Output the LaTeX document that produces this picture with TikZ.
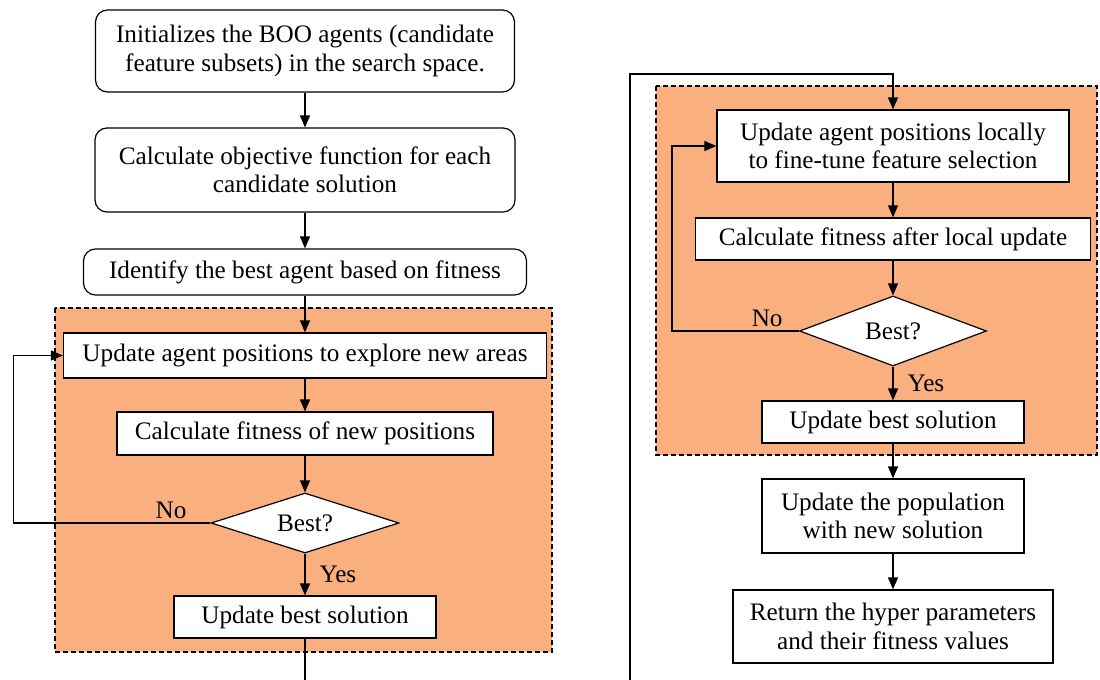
\documentclass[tikz,border=0pt]{standalone}
\usepackage{fontspec}
\setmainfont{Liberation Serif}
\usepackage{tikz}
\usetikzlibrary{arrows.meta, shapes.geometric, backgrounds}
\definecolor{peach}{RGB}{250,176,126}
\tikzstyle{box}=[draw, fill=white, shape=rectangle, align=center, inner sep=2pt, line width=0.6pt]
\tikzstyle{rbox}=[box, rounded corners=6pt]
\tikzstyle{dec}=[draw, fill=white, shape=diamond, aspect=3, inner sep=0pt, line width=0.6pt]
\tikzstyle{zone}=[draw, fill=peach, dash pattern=on 2.5pt off 1.5pt, line width=0.6pt]
\tikzset{>={Triangle[length=6pt,width=5pt]}}

\begin{document}
\begin{tikzpicture}[x=0.5pt, y=-0.5pt, line width=0.6pt, font=\fontsize{12.6}{14.2}\selectfont]
\useasboundingbox (0,0) rectangle (1100,680);

\draw[zone] (55,308) rectangle (552,652);
\draw[zone] (656,86) rectangle (1097,455);

\node[rbox, minimum width=209.5pt, minimum height=41pt] (B0) at (305,51) {Initializes the BOO agents (candidate\\feature subsets) in the search space.};
\node[rbox, minimum width=210pt, minimum height=42pt] (B1) at (305,170) {Calculate objective function for each\\candidate solution};
\node[rbox, minimum width=221.5pt, minimum height=23pt] (B2) at (305,272) {Identify the best agent based on fitness};
\node[box, minimum width=241.5pt, minimum height=22.5pt] (B3) at (305,355.5) {Update agent positions to explore new areas};
\node[box, minimum width=188pt, minimum height=21.5pt] (B4) at (305,433.5) {Calculate fitness of new positions};
\node[dec, minimum width=94pt, minimum height=30pt] (D0) at (305,523) {Best?};
\node[box, minimum width=131pt, minimum height=21pt] (B5) at (305,617) {Update best solution};
\coordinate (outL) at (305,680);

\coordinate (inR) at (630,680);
\node[box, minimum width=176pt, minimum height=36pt] (C0) at (893,146) {Update agent positions locally\\to fine-tune feature selection};
\node[box, minimum width=197.5pt, minimum height=21pt] (C1) at (893,239) {Calculate fitness after local update};
\node[dec, minimum width=93.5pt, minimum height=35pt] (D1) at (893,331) {Best?};
\node[box, minimum width=131pt, minimum height=21pt] (C2) at (893,422) {Update best solution};
\node[box, minimum width=131pt, minimum height=37pt] (C3) at (893,516) {Update the population\\with new solution};
\node[box, minimum width=160pt, minimum height=36.5pt] (C4) at (893,626.5) {Return the hyper parameters\\and their fitness values};

\draw[->] (B0) -- (B1);
\draw[->] (B1) -- (B2);
\draw[->] (B2) -- (B3);
\draw[->] (B3) -- (B4);
\draw[->] (B4) -- (D0);
\draw[->] (D0) -- node[right, inner sep=7pt] {Yes} (B5);
\draw[->] (D0.west) -- node[above, pos=0.2, inner sep=2pt] {No} ++(-197,0) |- (B3.west);
\draw (B5) -- (outL);

\draw[->] (inR) -- ++(0,-606) -| (C0.north);
\draw[->] (C0) -- (C1);
\draw[->] (C1) -- (D1);
\draw[->] (D1) -- node[right, inner sep=7pt] {Yes} (C2);
\draw[->] (D1.west) -- node[above, pos=0.25, inner sep=2pt] {No} ++(-127,0) |- (C0.west);
\draw[->] (C2) -- (C3);
\draw[->] (C3) -- (C4);
\end{tikzpicture}
\end{document}
